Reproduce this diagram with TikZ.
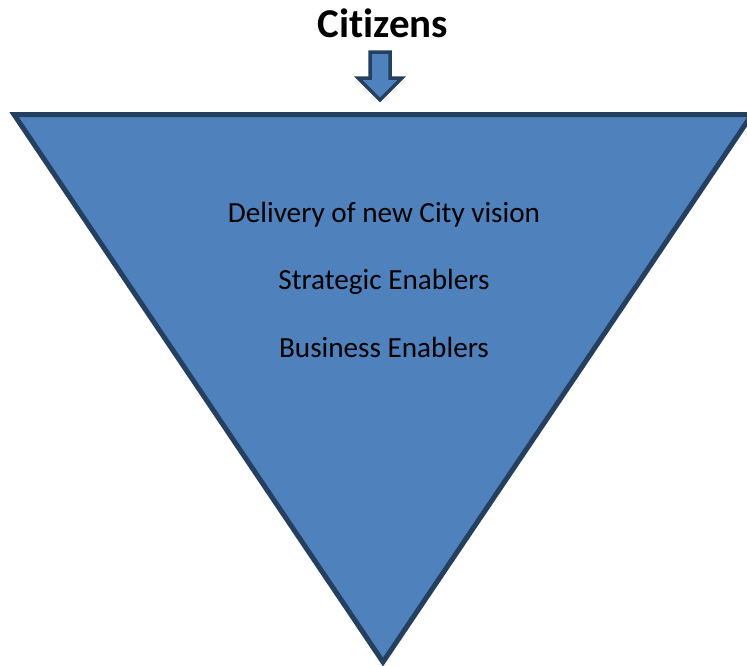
\documentclass[tikz,border=0pt]{standalone}
\usepackage{fontspec}
\setmainfont[Ligatures=NoCommon]{Carlito}
\usetikzlibrary{shapes.arrows}
\definecolor{fillblue}{HTML}{4F81BD}
\definecolor{edgeblue}{HTML}{243F60}
\begin{document}
\begin{tikzpicture}[x=1pt,y=-1pt,
  shapefill/.style={fill=fillblue,draw=edgeblue,line join=miter},
  bodytext/.style={font=\fontsize{29.2}{32}\selectfont,text=black,anchor=base}]
\useasboundingbox (0,0) rectangle (747,665);
\clip (0,0) rectangle (747,665);
% inverted pyramid
\coordinate (tl) at (14,114.5);
\coordinate (tr) at (752,114.5);
\coordinate (apex) at (383,662);
\draw[shapefill,line width=5] (tl) -- (tr) -- (apex) -- cycle;
% title and arrow
\node[font=\bfseries\fontsize{41}{46}\selectfont,anchor=base] (title) at (383,37) {Citizens};
\draw[shapefill,line width=3.5] (370,52) -- (390,52) -- (390,78) -- (402,78)
  -- (380,100) -- (358,78) -- (370,78) -- cycle;
% levels
\node[bodytext] (l1) at (384,222) {Delivery of new City vision};
\node[bodytext] (l2) at (384,289) {Strategic Enablers};
\node[bodytext] (l3) at (384,357) {Business Enablers};
\end{tikzpicture}
\end{document}
